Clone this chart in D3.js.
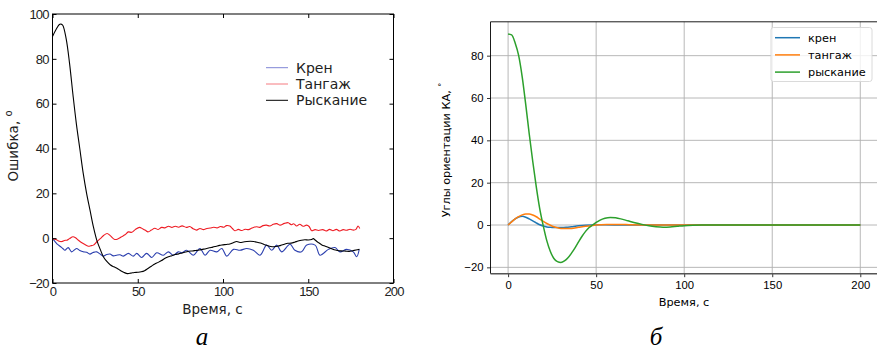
<!DOCTYPE html>
<html>
<head>
<meta charset="utf-8">
<script src="https://cdn.jsdelivr.net/npm/d3@7"></script>
<style>
  body { margin: 0; background: #fff; }
  svg { display: block; font-family: "DejaVu Sans", sans-serif; }
</style>
</head>
<body>
<svg id="chart" width="877" height="353"></svg>
<script>
// --- panel a: errors (time, value) ---
const rollErr = [[0,-0.2],[1.5,-1.5],[3,-2.8],[4.4,-3.6],[6,-4.6],[7.3,-5.4],[9.2,-4.2],[11.2,-6.1],[14.1,-4.6],[16,-5.5],[18,-6.1],[20,-6.3],[21.9,-7.1],[23.8,-6.4],[25.9,-6.1],[27.8,-7],[29.8,-8],[31.8,-7.3],[33.7,-7.1],[35.7,-7.9],[37.6,-7.6],[39.6,-7.4],[41.6,-8],[44.5,-6.8],[47.4,-8],[49.4,-6.8],[52.3,-8.6],[55.2,-6.8],[58.2,-8.6],[61.1,-6.5],[65,-7.6],[68,-6.1],[70.9,-7.6],[73.8,-6.1],[76,-6.5],[78.7,-5.4],[82.6,-7.6],[86.5,-4.6],[89.5,-7.6],[92.4,-5.4],[96.3,-6.1],[99.3,-4.6],[102.2,-8],[106.1,-5],[110,-5.4],[113.9,-4.6],[117.8,-5.4],[121.7,-7.6],[125.6,-3.1],[128.6,-5.4],[131.5,-3.1],[134.4,-6.1],[139.3,-2.7],[142.2,-5.4],[146.1,-6.1],[149.1,-3.1],[154,-3.1],[156.9,-7.6],[161.8,-5],[165.7,-4.2],[168.6,-6.1],[172.5,-5],[176.4,-6.1],[178.4,-8.3],[179.9,-5]];
const pitchErr = [[0,-0.2],[2,-0.6],[4,-1.4],[5.5,-1.5],[7,-1],[8.5,-0.9],[10,-0.2],[12,0.6],[13.5,0.2],[15,-0.8],[16.5,-1.7],[18.5,-2.6],[21,-3.6],[22.5,-3.4],[24,-3.1],[26,-1.6],[28,-0.2],[30,1.2],[32,2.1],[34,1],[36.5,-0.6],[38.5,-0.3],[40.5,0.6],[42.5,1.5],[44.5,2.8],[46.5,2.6],[48.5,3.8],[51,4.8],[53,4.1],[54.5,3.5],[56,2.8],[58,3.6],[60,4.4],[62,3.9],[64,4.8],[66,4.6],[68,5.3],[70,4.8],[72,5.3],[74,4.9],[76,5.5],[78.5,4.8],[80.5,5.2],[82.5,4.2],[84.5,3.6],[86.5,4.3],[88.5,3.8],[90.5,4.3],[92.5,4.5],[94.5,4.9],[96.5,4.6],[98.5,5.2],[100.5,4.9],[102,5.6],[104,5.4],[105.5,4.3],[107,3.3],[109,3.9],[111,3.4],[113,4],[115,3.8],[117,4.5],[119.5,5.1],[121.5,4.8],[123.5,5.6],[125.5,5.8],[127.5,5.4],[129.5,6.2],[131.5,6.5],[133.5,5.8],[136,6.6],[138.3,6.9],[140,6],[141.5,6.4],[143.2,5.4],[145,6.2],[147,5.3],[149,5.8],[150.5,5.2],[152,3.3],[154,3.8],[156,3.4],[158.5,3.8],[160.5,3.2],[162.5,3.9],[164.5,3.3],[166.5,3.9],[168.5,3.2],[170.5,3.8],[172.5,3.5],[174.5,4],[176.5,3.6],[178,3.9],[179.2,5.4],[180.2,4.3]];
const yawErr = [[0,90],[2,93],[4,95.3],[5,95.5],[6,95],[8,89],[10,78],[12,64],[14,51],[16,40],[18,29],[20,20],[22,12.5],[24,5],[26,-1],[28,-5],[30,-8.5],[32,-10.5],[34,-12],[36,-12.8],[38,-13.5],[40,-14.5],[42,-15.3],[44,-15.8],[46,-15.6],[48,-15.3],[50,-15.2],[52,-15],[54,-14.5],[56,-13.5],[58,-12.5],[60,-11.5],[62,-10.8],[64,-10],[66,-9],[68,-8.3],[70,-7.8],[72,-7.3],[74,-7],[76,-6.6],[78,-6.2],[80,-5.8],[82,-5.7],[84,-5.5],[86,-5.3],[88,-5],[90,-4.7],[92,-4.3],[94,-4],[96,-3.6],[98,-3.2],[100,-3],[102,-2.8],[104,-2.6],[106,-2],[108,-1.5],[110,-1.9],[112,-1.7],[114,-1.5],[116,-1.4],[118,-1.5],[120,-1.8],[122,-2.2],[124,-2.8],[126,-3.3],[128,-3.7],[130,-3.8],[132,-3.6],[134,-3.2],[136,-2.7],[138,-2.3],[140,-2.2],[142,-1.8],[144,-1.3],[146,-0.9],[148,-0.7],[150,-0.8],[152,-0.6],[153,-0.2],[154,-0.8],[156,-2],[158,-3],[160,-3.6],[162,-4.2],[164,-4.8],[166,-5.3],[168,-5.6],[170,-5.7],[172,-5.8],[174,-5.9],[176,-5.6],[178,-5.3],[180,-5]];
const errNames = ["Крен", "Тангаж", "Рыскание"];
const errTicksX = [0, 50, 100, 150, 200];
const errTicksY = [-20, 0, 20, 40, 60, 80, 100];

// --- panel b: attitude angles (time, value) ---
const rollAng = [[0,0],[2,1.6],[4,2.9],[6,3.8],[8,4.1],[10,3.7],[12,2.9],[14,2],[16,1],[18,0.1],[20,-0.5],[22,-0.9],[24,-1.1],[26,-1.2],[28,-1.2],[30,-1.2],[33,-1.1],[36,-0.8],[40,-0.4],[44,-0.1],[48,0.05],[55,0.1],[65,0],[200,0]];
const pitchAng = [[0,0],[2,1.5],[4,2.9],[6,4],[8,4.8],[10,5.2],[12,5.2],[14,4.7],[16,3.9],[18,2.8],[20,1.7],[22,0.7],[24,-0.1],[26,-0.8],[28,-1.3],[30,-1.6],[33,-1.7],[36,-1.6],[40,-1.1],[44,-0.6],[48,-0.2],[52,0.1],[56,0.3],[62,0.3],[70,0.1],[80,0],[200,0]];
const yawAng = [[0,90.2],[2,89.8],[4,86],[6,80],[8,70],[10,57],[12,43],[14,30],[16,18],[18,7.5],[20,-0.5],[22,-7.5],[24,-12.5],[26,-15.8],[28,-17.3],[30,-17.7],[32,-17],[34,-15.5],[36,-13.3],[38,-10.8],[40,-8],[42,-5.3],[44,-3],[46,-1.2],[48,0],[50,1.2],[52,2.2],[55,3.2],[58,3.6],[61,3.4],[64,2.9],[68,2],[72,1.1],[76,0.3],[80,-0.4],[84,-0.8],[88,-1],[92,-0.9],[96,-0.6],[100,-0.3],[105,-0.1],[110,0],[200,0]];
const angNames = ["крен", "тангаж", "рыскание"];
const angTicksX = [0, 50, 100, 150, 200];
const angTicksY = [-20, 0, 20, 40, 60, 80];

const svg = d3.select("#chart");
svg.append("rect").attr("width", 877).attr("height", 353).attr("fill", "#fff");
const fmt = d => d < 0 ? "\u2212" + Math.abs(d) : "" + d;

// ================= panel a =================
const ax = d3.scaleLinear().domain([0, 200]).range([52.5, 393.5]);
const ay = d3.scaleLinear().domain([-20, 100]).range([283, 14]);
const ga = svg.append("g");

const aLine = d3.line().x(d => ax(d[0])).y(d => ay(d[1])).curve(d3.curveCatmullRom);
const aColors = ["#2b3fae", "#ee1c24", "#000"];
[rollErr, pitchErr, yawErr].forEach((s, i) => {
  ga.append("path").datum(s).attr("d", aLine)
    .attr("fill", "none").attr("stroke", aColors[i]).attr("stroke-width", 1.1);
});

function styleA(g) {
  g.select(".domain").remove();
  g.selectAll("line").attr("stroke", "#000");
  g.selectAll("text").attr("fill", "#222").attr("font-size", 13).attr("letter-spacing", -0.9);
}
ga.append("g").attr("transform", `translate(0,${ay(-20)})`)
  .call(d3.axisBottom(ax).tickValues(errTicksX).tickSizeInner(-4).tickSizeOuter(0).tickPadding(4).tickFormat(fmt))
  .call(styleA);
ga.append("g").attr("transform", `translate(0,${ay(100)})`)
  .call(d3.axisTop(ax).tickValues(errTicksX).tickSizeInner(-4).tickSizeOuter(0).tickFormat(""))
  .call(styleA);
ga.append("g").attr("transform", `translate(${ax(0)},0)`)
  .call(d3.axisLeft(ay).tickValues(errTicksY).tickSizeInner(-4).tickSizeOuter(0).tickPadding(4).tickFormat(fmt))
  .call(styleA);
ga.append("g").attr("transform", `translate(${ax(200)},0)`)
  .call(d3.axisRight(ay).tickValues(errTicksY).tickSizeInner(-4).tickSizeOuter(0).tickFormat(""))
  .call(styleA);
ga.append("rect").attr("x", ax(0)).attr("y", ay(100))
  .attr("width", ax(200) - ax(0)).attr("height", ay(-20) - ay(100))
  .attr("fill", "none").attr("stroke", "#000").attr("stroke-width", 1);

ga.append("text").attr("x", 212.5).attr("y", 314).attr("text-anchor", "middle")
  .attr("font-size", 13.5).attr("fill", "#222").text("Время, с");
const aYl = ga.append("text").attr("transform", "translate(18,146) rotate(-90)")
  .attr("text-anchor", "middle").attr("font-size", 13.5).attr("fill", "#222");
aYl.append("tspan").text("Ошибка, ");
aYl.append("tspan").attr("font-size", 10).attr("dy", -6).text("о");

const aLegColors = ["#7f86d6", "#f57b80", "#000"];
errNames.forEach((n, i) => {
  const y = 67.7 + i * 16.3;
  ga.append("line").attr("x1", 266).attr("x2", 288).attr("y1", y).attr("y2", y)
    .attr("stroke", aLegColors[i]).attr("stroke-width", 1);
  ga.append("text").attr("x", 296).attr("y", y).attr("dy", "0.35em")
    .attr("font-size", 14).attr("fill", "#222").text(n);
});

// ================= panel b =================
const bx = d3.scaleLinear().domain([-10, 210]).range([490.5, 877.9]);
const by = d3.scaleLinear().domain([-23, 96]).range([273.7, 21.8]);
const gb = svg.append("g");

// grid
gb.append("g").selectAll("line").data(angTicksX).join("line")
  .attr("x1", d => bx(d)).attr("x2", d => bx(d)).attr("y1", by(96)).attr("y2", by(-23))
  .attr("stroke", "#b0b0b0").attr("stroke-width", 0.9);
gb.append("g").selectAll("line").data(angTicksY).join("line")
  .attr("x1", bx(-10)).attr("x2", 877).attr("y1", d => by(d)).attr("y2", d => by(d))
  .attr("stroke", "#b0b0b0").attr("stroke-width", 0.9);

const bLine = d3.line().x(d => bx(d[0])).y(d => by(d[1])).curve(d3.curveMonotoneX);
const bColors = ["#1f77b4", "#ff7f0e", "#2ca02c"];
[rollAng, pitchAng, yawAng].forEach((s, i) => {
  gb.append("path").datum(s).attr("d", bLine)
    .attr("fill", "none").attr("stroke", bColors[i]).attr("stroke-width", 1.5);
});

function styleB(g) {
  g.select(".domain").remove();
  g.selectAll("line").attr("stroke", "#000").attr("stroke-width", 0.8);
  g.selectAll("text").attr("fill", "#000").attr("font-size", 11.3);
}
gb.append("g").attr("transform", `translate(0,${by(-23)})`)
  .call(d3.axisBottom(bx).tickValues(angTicksX).tickSize(3.5).tickPadding(3.5).tickFormat(fmt))
  .call(styleB);
gb.append("g").attr("transform", `translate(${bx(-10)},0)`)
  .call(d3.axisLeft(by).tickValues(angTicksY).tickSize(3.5).tickPadding(3.5).tickFormat(fmt))
  .call(styleB);
// spines
gb.append("line").attr("x1", bx(-10)).attr("x2", 877).attr("y1", by(96)).attr("y2", by(96))
  .attr("stroke", "#000").attr("stroke-width", 0.9);
gb.append("line").attr("x1", bx(-10)).attr("x2", bx(-10)).attr("y1", by(96)).attr("y2", by(-23))
  .attr("stroke", "#000").attr("stroke-width", 0.9);
gb.append("line").attr("x1", bx(-10)).attr("x2", 877).attr("y1", by(-23)).attr("y2", by(-23))
  .attr("stroke", "#555").attr("stroke-width", 1.4);

gb.append("text").attr("x", 684).attr("y", 306).attr("text-anchor", "middle")
  .attr("font-size", 11.3).attr("fill", "#000").text("Время, с");
const bYl = gb.append("text").attr("transform", "translate(450,150) rotate(-90)")
  .attr("text-anchor", "middle").attr("font-size", 11.3).attr("fill", "#000");
bYl.append("tspan").text("Углы ориентации КА, ");
bYl.append("tspan").attr("font-size", 8).attr("dy", -5).text("°");

// legend
gb.append("rect").attr("x", 771).attr("y", 27.5).attr("width", 101).attr("height", 54)
  .attr("rx", 2.5).attr("fill", "#fff").attr("fill-opacity", 0.8)
  .attr("stroke", "#d6d6d6").attr("stroke-width", 0.9);
angNames.forEach((n, i) => {
  const y = 37.7 + i * 17.2;
  gb.append("line").attr("x1", 775).attr("x2", 800).attr("y1", y).attr("y2", y)
    .attr("stroke", bColors[i]).attr("stroke-width", 1.5);
  gb.append("text").attr("x", 808).attr("y", y).attr("dy", "0.35em")
    .attr("font-size", 11.3).attr("fill", "#000").text(n);
});

// panel letters
svg.append("text").attr("x", 202).attr("y", 345).attr("text-anchor", "middle")
  .attr("font-family", "Liberation Serif, serif").attr("font-style", "italic")
  .attr("font-size", 25).attr("fill", "#000").text("а");
svg.append("text").attr("x", 656).attr("y", 345).attr("text-anchor", "middle")
  .attr("font-family", "Liberation Serif, serif").attr("font-style", "italic")
  .attr("font-size", 25).attr("fill", "#000").text("б");
</script>
</body>
</html>
